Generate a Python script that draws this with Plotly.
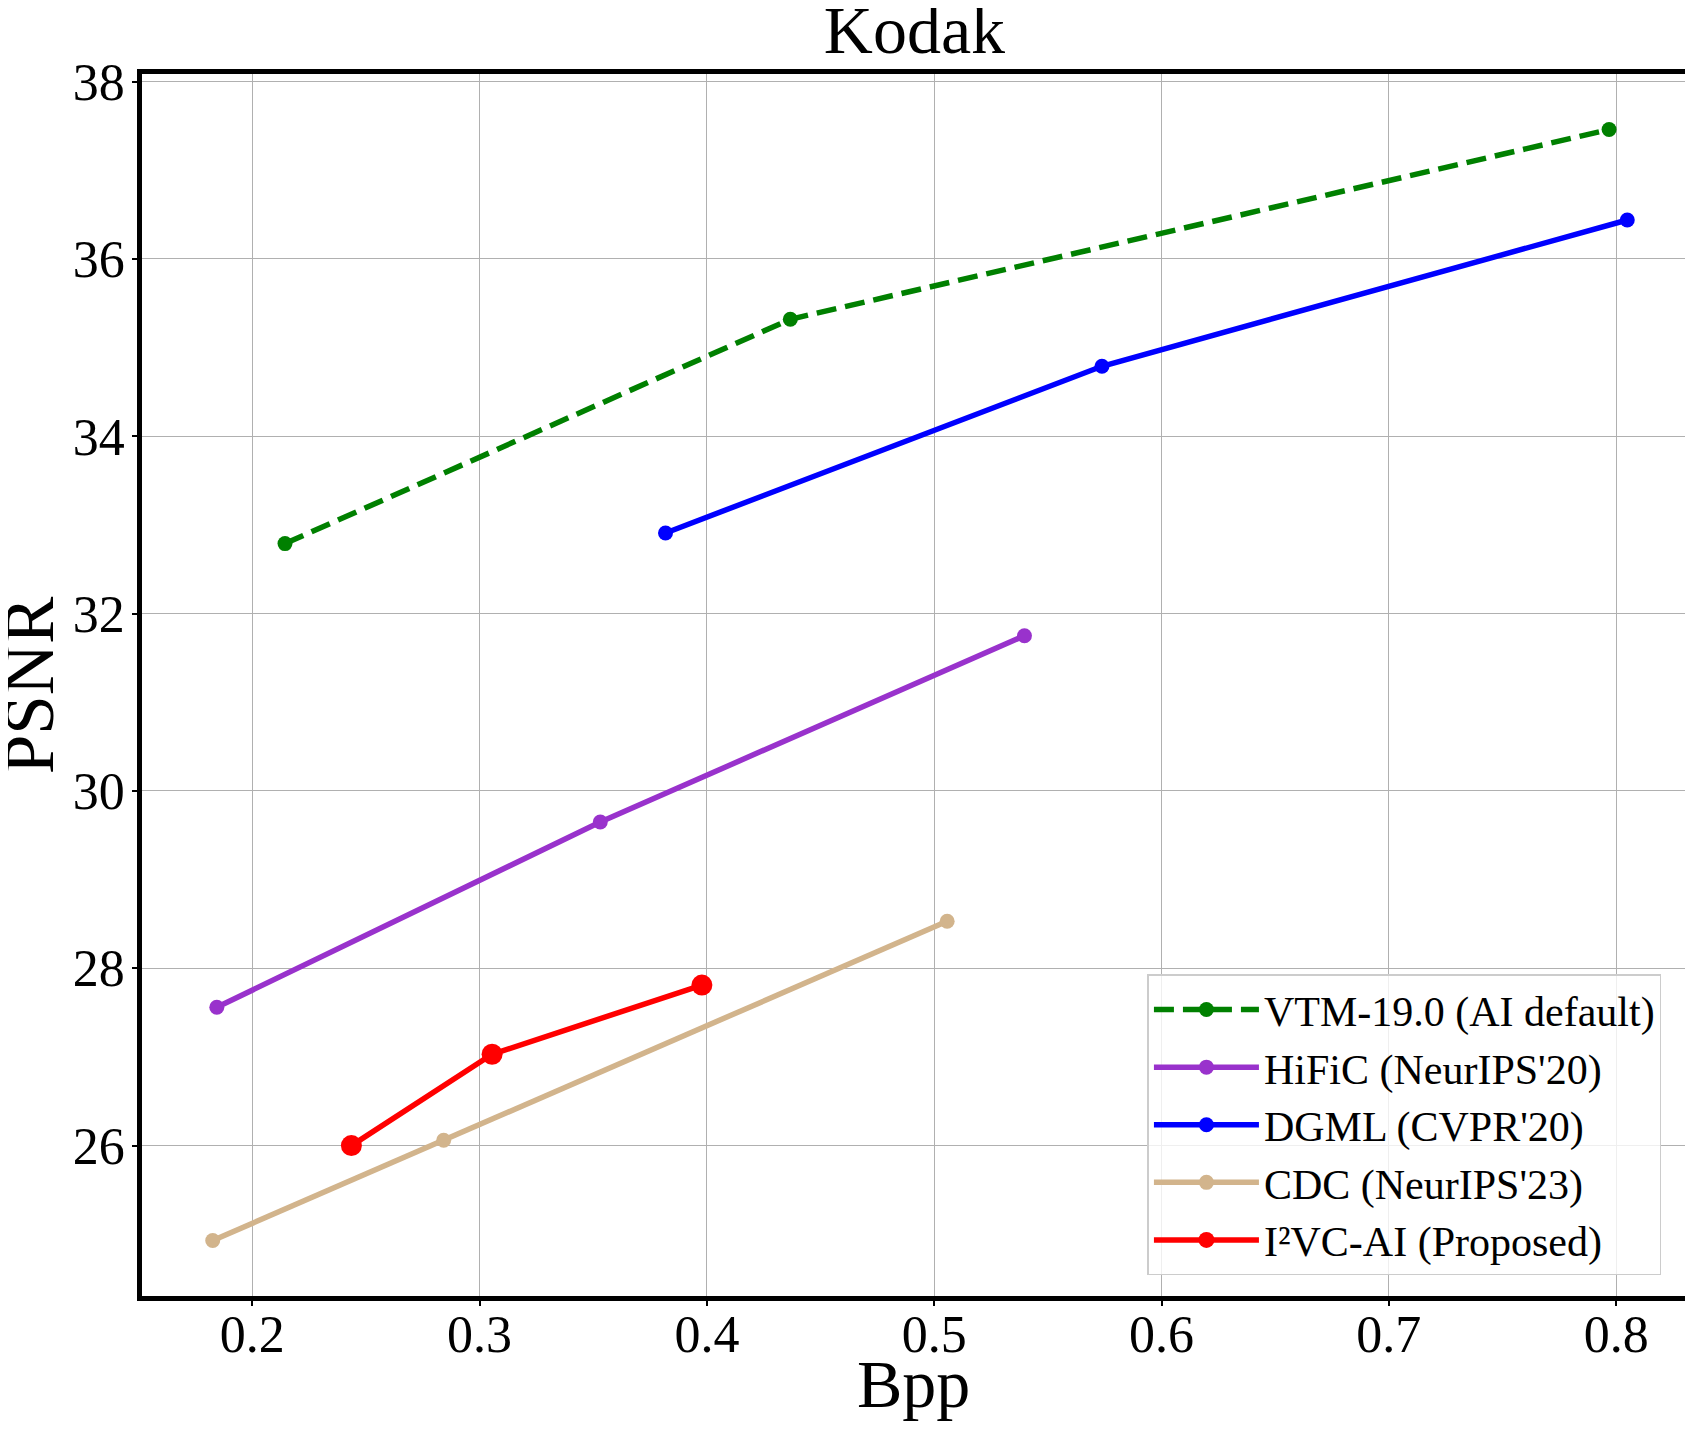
import plotly.graph_objects as go

# -----------------------------
# Rate-distortion points
# -----------------------------
vtm_bpp = [0.2144, 0.4367, 0.7969]
vtm_psnr = [32.79, 35.32, 37.46]

hific_bpp = [0.1844, 0.3531, 0.5397]
hific_psnr = [27.56, 29.65, 31.75]

dgml_bpp = [0.3818, 0.5738, 0.8049]
dgml_psnr = [32.91, 34.79, 36.44]

cdc_bpp = [0.1826, 0.2842, 0.5057]
cdc_psnr = [24.93, 26.06, 28.53]

i2vc_bpp = [0.2436, 0.3055, 0.3978]
i2vc_psnr = [26.00, 27.03, 27.81]

names = ['VTM-19.0 (AI default)', "HiFiC (NeurIPS'20)", "DGML (CVPR'20)",
         "CDC (NeurIPS'23)", 'I²VC-AI (Proposed)']

FONT = 'Liberation Serif'

# matplotlib-style 5% data margins for the axis ranges
all_x = vtm_bpp + hific_bpp + dgml_bpp + cdc_bpp + i2vc_bpp
all_y = vtm_psnr + hific_psnr + dgml_psnr + cdc_psnr + i2vc_psnr
xpad = 0.05 * (max(all_x) - min(all_x))
ypad = 0.05 * (max(all_y) - min(all_y))

fig = go.Figure()
fig.add_trace(go.Scatter(x=vtm_bpp, y=vtm_psnr, mode='lines+markers', name=names[0],
                         line=dict(color='green', width=5.5, dash='20px,9px'),
                         marker=dict(size=15, color='green')))
fig.add_trace(go.Scatter(x=hific_bpp, y=hific_psnr, mode='lines+markers', name=names[1],
                         line=dict(color='#9932CC', width=5.5),
                         marker=dict(size=15, color='#9932CC')))
fig.add_trace(go.Scatter(x=dgml_bpp, y=dgml_psnr, mode='lines+markers', name=names[2],
                         line=dict(color='blue', width=5.5),
                         marker=dict(size=15, color='blue')))
fig.add_trace(go.Scatter(x=cdc_bpp, y=cdc_psnr, mode='lines+markers', name=names[3],
                         line=dict(color='#D2B48C', width=5.5),
                         marker=dict(size=15, color='#D2B48C')))
fig.add_trace(go.Scatter(x=i2vc_bpp, y=i2vc_psnr, mode='lines+markers', name=names[4],
                         line=dict(color='red', width=5.5),
                         marker=dict(size=21, color='red')))

axis_common = dict(showline=True, mirror=True, linecolor='black', linewidth=4.5,
                   showgrid=True, gridcolor='#b0b0b0', gridwidth=1.3,
                   ticks='outside', ticklen=5, tickwidth=1.5, tickcolor='black',
                   tickfont=dict(family=FONT, size=52, color='black'),
                   zeroline=False, automargin=False)

fig.update_xaxes(range=[min(all_x) - xpad, max(all_x) + xpad], dtick=0.1, tick0=0,
                 tickformat='.1f', ticklabelstandoff=-16, **axis_common)
fig.update_yaxes(range=[min(all_y) - ypad, max(all_y) + ypad], dtick=2, tick0=0,
                 ticklabelstandoff=-3, **axis_common)

# axis titles as annotations so they sit where the reference puts them
fig.add_annotation(text='Bpp', xref='paper', yref='paper', x=0.496, y=-0.072,
                   xanchor='center', yanchor='middle', showarrow=False,
                   font=dict(family=FONT, size=68, color='black'))
fig.add_annotation(text='PSNR', xref='paper', yref='paper', x=-0.0725, y=0.5,
                   xanchor='center', yanchor='middle', showarrow=False, textangle=-90,
                   font=dict(family=FONT, size=71, color='black'))

fig.update_layout(
    width=1693, height=1434,
    margin=dict(l=134, r=3, t=66, b=146),
    paper_bgcolor='white', plot_bgcolor='white',
    font=dict(family=FONT, color='black'),
    title=dict(text='Kodak', x=0.5354, xanchor='center', y=0.9855, yanchor='middle',
               yref='container', font=dict(family=FONT, size=68, color='black')),
    legend=dict(x=0.9765, y=0.017, xanchor='right', yanchor='bottom',
                bgcolor='rgba(255,255,255,0.8)', bordercolor='#cccccc', borderwidth=1.5,
                font=dict(family=FONT, size=42, color='black'),
                itemwidth=105),
    showlegend=True,
)

fig.write_html('out.html')
